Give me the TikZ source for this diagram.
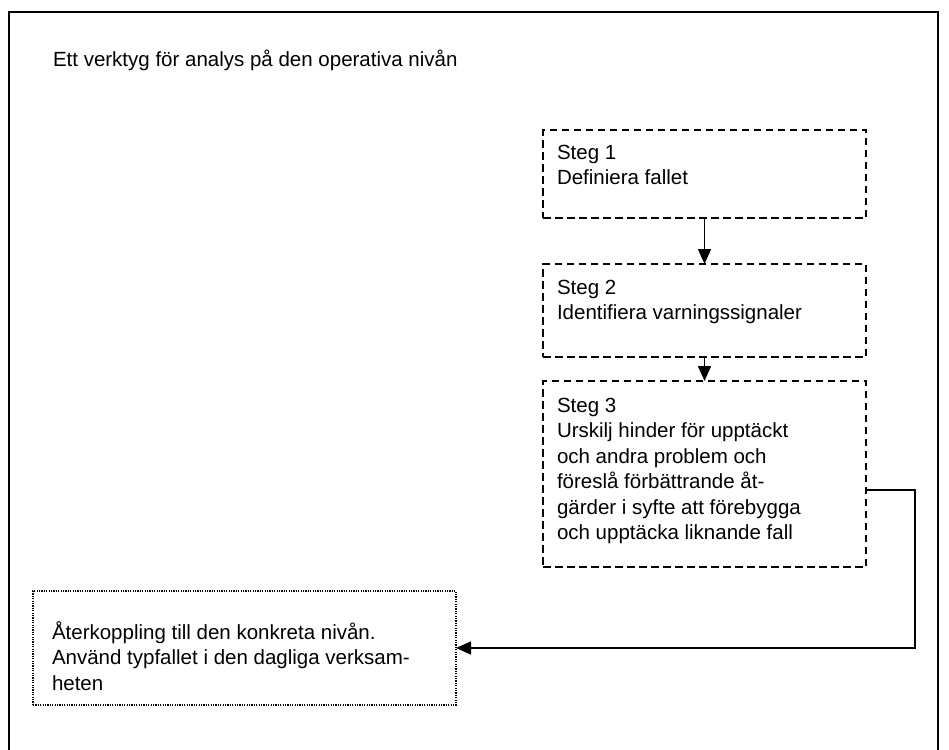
\documentclass[tikz,border=0pt]{standalone}
\usepackage{fontspec}
\setmainfont{Liberation Sans}
\usetikzlibrary{arrows.meta}

% left-aligned block of lines whose baseline is that of its first line
\newcommand\linesblock[1]{\vtop{\halign{##\hfil\cr#1\crcr}}}

\tikzset{
  frame/.style={draw=black, line width=2pt},
  stepbox/.style={draw=black, line width=1.4pt, dash pattern=on 7.5pt off 4.5pt,
    rectangle, inner sep=0pt, outer sep=0pt, anchor=north west},
  feedbackbox/.style={draw=black, line width=1.3pt, dash pattern=on 1.2pt off 1.2pt,
    rectangle, inner sep=0pt, outer sep=0pt, anchor=north west},
  txt/.style={inner sep=0pt, outer sep=0pt, anchor=base west,
    font=\fontsize{20.5pt}{25.5pt}\selectfont},
  flow/.style={draw=black, line width=1.6pt,
    -{Triangle[width=13pt,length=15pt]}},
}

\begin{document}
\begin{tikzpicture}[x=1pt, y=-1pt]
  \useasboundingbox (0,0) rectangle (949,749);

  % outer frame (runs off the lower edge of the page)
  \begin{scope}
    \clip (0,0) rectangle (949,749);
    \draw[frame] (9,12) rectangle (938,770);
  \end{scope}

  % heading
  \node[txt] (title) at (53,67) {Ett verktyg för analys på den operativa nivån};

  % three analysis steps
  \node[stepbox, minimum width=323pt, minimum height=88pt] (s1) at (543,130) {};
  \node[txt] (s1t) at (557,159) {\linesblock{Steg 1\cr Definiera fallet}};

  \node[stepbox, minimum width=323pt, minimum height=93pt] (s2) at (543,264) {};
  \node[txt] (s2t) at (557,294) {\linesblock{Steg 2\cr Identifiera varningssignaler}};

  \node[stepbox, minimum width=323pt, minimum height=186pt] (s3) at (543,381) {};
  \node[txt] (s3t) at (557,412) {\linesblock{Steg 3\cr Urskilj hinder för upptäckt\cr
    och andra problem och\cr föreslå förbättrande åt-\cr
    gärder i syfte att förebygga\cr och upptäcka liknande fall}};

  % feedback box
  \node[feedbackbox, minimum width=423pt, minimum height=114pt] (fb) at (33,591) {};
  \node[txt] (fbt) at (52,639) {\linesblock{Återkoppling till den konkreta nivån.\cr
    Använd typfallet i den dagliga verksam-\cr heten}};

  % connectors
  \draw[flow] (s1.south) -- (s2.north);
  \draw[flow] (s2.south) -- (s3.north);
  \coordinate (c1) at (915,490);
  \coordinate (c2) at (915,648);
  \draw[flow] (s3.east |- c1) -- (c1) -- (c2) -- (fb.east |- c2);
\end{tikzpicture}
\end{document}
